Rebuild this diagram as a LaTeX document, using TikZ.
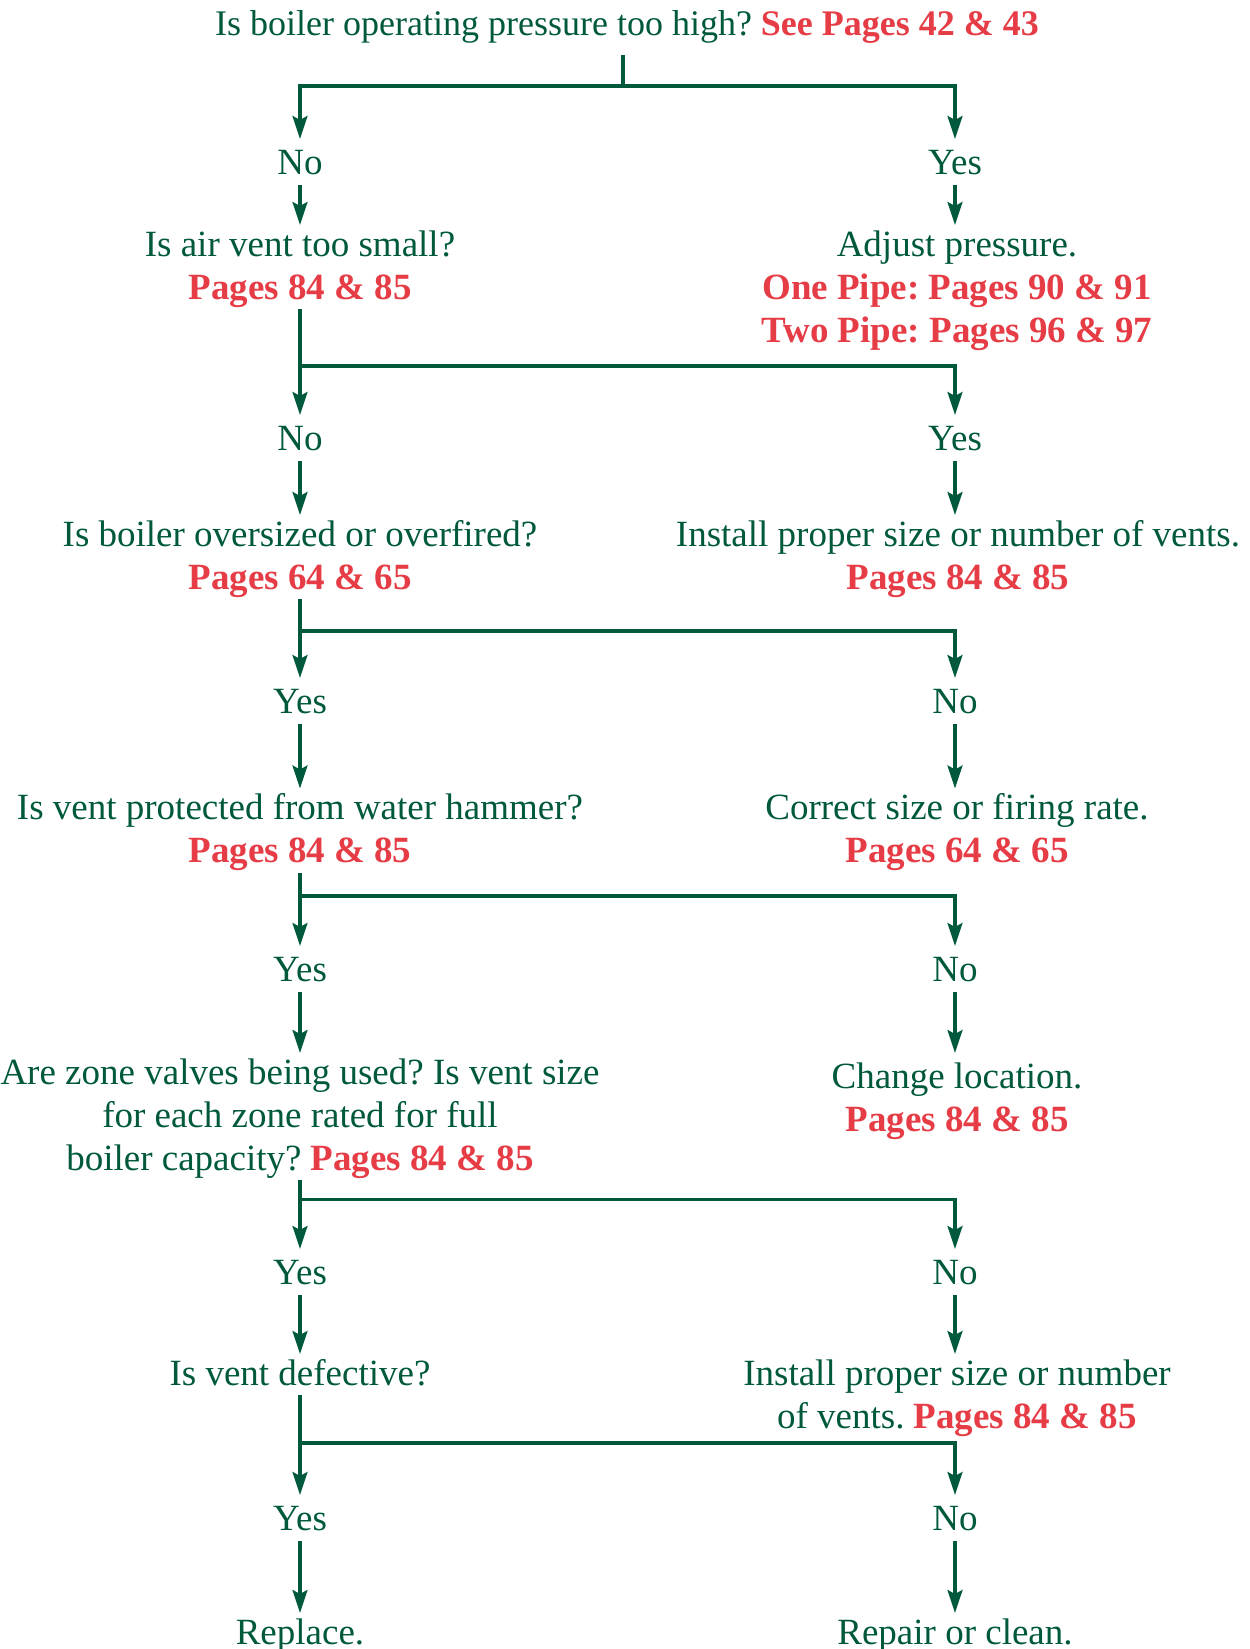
\documentclass[tikz,border=0pt]{standalone}
\usepackage{fontspec}
\setmainfont{Liberation Serif}
\usetikzlibrary{arrows.meta}
\definecolor{flowgreen}{HTML}{00593C}
\definecolor{pagered}{HTML}{E63C46}
% page references in bold red
\newcommand{\pg}[1]{\textbf{\textcolor{pagered}{#1}}}
% invisible struts fixing the top and bottom of the text blocks
\newcommand{\upstrut}{\rule{0pt}{31pt}}
\newcommand{\downstrut}{\rule[-10pt]{0pt}{10pt}}

\begin{document}
\frenchspacing
\begin{tikzpicture}[x=1pt,y=-1pt,
  every node/.style={text=flowgreen, font=\fontsize{37}{43}\selectfont, inner sep=0pt},
  ans/.style={anchor=north, text height=35pt, text depth=11pt},
  quest/.style={anchor=north, align=center},
  link/.style={draw=flowgreen, line width=3.2pt},
  arr/.style={link, -{Stealth[length=23pt,width=15pt,inset=4pt]}}]
\useasboundingbox (0,0) rectangle (1250,1649);

% top question
\node[anchor=base, text depth=20pt, font=\fontsize{36}{43}\selectfont] (title) at (627,35)
  {Is boiler operating pressure too high? \pg{See Pages 42 \& 43}};
\coordinate (j0) at (623,86);
\node[ans] (a1l) at (300,139) {No};
\node[ans] (a1r) at (955,139) {Yes};
\draw[link] (title.south -| j0) -- (j0);
\draw[arr] (j0) -| (a1l.north);
\draw[arr] (j0) -| (a1r.north);

% air vent size
\node[quest] (q1) at (300,225) {\upstrut Is air vent too small?\\ \pg{Pages 84 \& 85}\downstrut};
\node[quest] (r1) at (957,225) {\upstrut Adjust pressure.\\ \pg{One Pipe: Pages 90 \& 91}\\ \pg{Two Pipe: Pages 96 \& 97}};
\draw[arr] (a1l.south) -- (q1.north);
\draw[arr] (a1r.south) -- (r1.north -| a1r.south);

\coordinate (j1) at (300,366);
\node[ans] (a2l) at (300,415) {No};
\node[ans] (a2r) at (955,415) {Yes};
\draw[arr] (q1.south) -- (a2l.north);
\draw[arr] (j1) -| (a2r.north);

% boiler size
\node[quest] (q2) at (300,515) {\upstrut Is boiler oversized or overfired?\\ \pg{Pages 64 \& 65}\downstrut};
\node[quest] (r2) at (958,515) {\upstrut Install proper size or number of vents.\\ \pg{Pages 84 \& 85}};
\draw[arr] (a2l.south) -- (q2.north);
\draw[arr] (a2r.south) -- (r2.north -| a2r.south);

\coordinate (j2) at (300,631);
\node[ans] (a3l) at (300,678) {Yes};
\node[ans] (a3r) at (955,678) {No};
\draw[arr] (q2.south) -- (a3l.north);
\draw[arr] (j2) -| (a3r.north);

% water hammer
\node[quest] (q3) at (300,788.5) {\upstrut Is vent protected from water hammer?\\ \pg{Pages 84 \& 85}\downstrut};
\node[quest] (r3) at (957,788.5) {\upstrut Correct size or firing rate.\\ \pg{Pages 64 \& 65}};
\draw[arr] (a3l.south) -- (q3.north);
\draw[arr] (a3r.south) -- (r3.north -| a3r.south);

\coordinate (j3) at (300,896);
\node[ans] (a4l) at (300,946) {Yes};
\node[ans] (a4r) at (955,946) {No};
\draw[arr] (q3.south) -- (a4l.north);
\draw[arr] (j3) -| (a4r.north);

% zone valves
\node[quest] (q4) at (300,1053) {\upstrut Are zone valves being used? Is vent size\\ for each zone rated for full\\ boiler capacity? \pg{Pages 84 \& 85}\downstrut};
\node[quest] (r4) at (957,1053) {\rule{0pt}{35pt}Change location.\\ \pg{Pages 84 \& 85}};
\draw[arr] (a4l.south) -- (q4.north);
\draw[arr] (a4r.south) -- (r4.north -| a4r.south);

\coordinate (j4) at (300,1199.5);
\node[ans] (a5l) at (300,1249) {Yes};
\node[ans] (a5r) at (955,1249) {No};
\draw[arr] (q4.south) -- (a5l.north);
\draw[arr] (j4) -| (a5r.north);

% defective vent
\node[quest] (q5) at (300,1354) {\upstrut Is vent defective?\downstrut};
\node[quest] (r5) at (957,1354) {\upstrut Install proper size or number\\ of vents. \pg{Pages 84 \& 85}};
\draw[arr] (a5l.south) -- (q5.north);
\draw[arr] (a5r.south) -- (r5.north -| a5r.south);

\coordinate (j5) at (300,1443);
\node[ans] (a6l) at (300,1495) {Yes};
\node[ans] (a6r) at (955,1495) {No};
\draw[arr] (q5.south) -- (a6l.north);
\draw[arr] (j5) -| (a6r.north);

% outcomes
\node[quest] (q6) at (300,1613) {\upstrut Replace.};
\node[quest] (r6) at (955,1613) {\upstrut Repair or clean.};
\draw[arr] (a6l.south) -- (q6.north);
\draw[arr] (a6r.south) -- (r6.north);
\end{tikzpicture}
\end{document}
